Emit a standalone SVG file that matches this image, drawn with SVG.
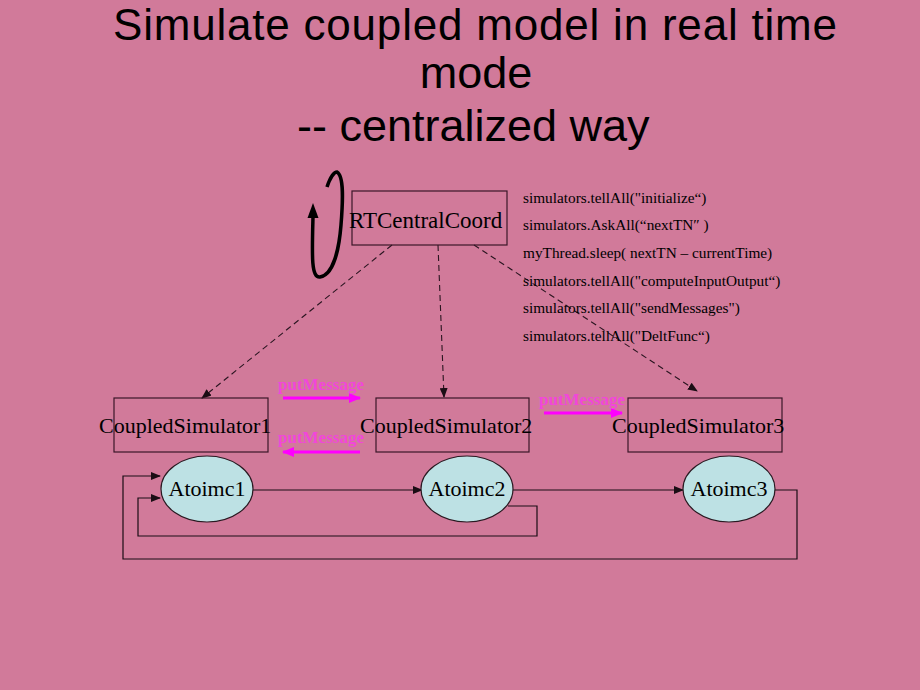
<svg xmlns="http://www.w3.org/2000/svg" width="920" height="690" viewBox="0 0 920 690">
<defs>
<style>
.title{font-family:"Liberation Sans",Arial,sans-serif;font-size:45px;fill:#000}
.node{font-family:"Liberation Serif","Times New Roman",serif;font-size:22px;fill:#000}
.code{font-family:"Liberation Serif","Times New Roman",serif;font-size:15.3px;fill:#000}
.pm{font-family:"Liberation Serif","Times New Roman",serif;font-size:17px;font-weight:bold;fill:#F246DA}
.box{fill:none;stroke:#3a1628;stroke-width:1.2}
.ell{fill:#BDE1E4;stroke:#2a1a22;stroke-width:1.2}
.dash{fill:none;stroke:#2a1520;stroke-width:1.1;stroke-dasharray:6 4}
.wire{fill:none;stroke:#1a0d14;stroke-width:1.2}
.mag{fill:none;stroke:#FF00FF;stroke-width:3}
</style>
<marker id="ah" markerWidth="10" markerHeight="8" refX="9" refY="4" orient="auto" markerUnits="userSpaceOnUse">
<path d="M0,0 L10,4 L0,8 z" fill="#1a0d14"/>
</marker>
<marker id="mh" markerWidth="12" markerHeight="10" refX="11" refY="5" orient="auto" markerUnits="userSpaceOnUse">
<path d="M0,0 L12,5 L0,10 z" fill="#FF00FF"/>
</marker>
</defs>
<rect x="0" y="0" width="920" height="690" fill="#D17A9A"/>

<g id="title">
<text class="title" x="113" y="40" textLength="724" lengthAdjust="spacing" style="font-size:44px">Simulate coupled model in real time</text>
<text class="title" x="476" y="88" text-anchor="middle">mode</text>
<text class="title" x="297" y="141">-- centralized way</text>
</g>

<g id="connectors">
<path d="M327,187 C330,178 334,172 337,172 C344,176 343,200 341,225 C339,250 333,275 320,277 C311,278 312,255 313,217" fill="none" stroke="#000" stroke-width="3.5"/>
<path d="M313,203 L307.5,218 L318.5,218 z" fill="#000"/>
<line class="dash" x1="392" y1="245" x2="202" y2="398" marker-end="url(#ah)"/>
<line class="dash" x1="438" y1="245" x2="444" y2="397" marker-end="url(#ah)"/>
<line class="dash" x1="474" y1="245" x2="697" y2="391" marker-end="url(#ah)"/>
<line class="mag" x1="283" y1="398" x2="360" y2="398" marker-end="url(#mh)"/>
<line class="mag" x1="360" y1="452" x2="283" y2="452" marker-end="url(#mh)"/>
<line class="mag" x1="544" y1="413" x2="622" y2="413" marker-end="url(#mh)"/>
<line class="wire" x1="253" y1="490" x2="422" y2="490" marker-end="url(#ah)"/>
<line class="wire" x1="513" y1="490" x2="683" y2="490" marker-end="url(#ah)"/>
<polyline class="wire" points="508,506 537,506 537,536 138,536 138,498 160,498" marker-end="url(#ah)"/>
<polyline class="wire" points="774,490 797,490 797,559 123,559 123,476 160,476" marker-end="url(#ah)"/>
</g>

<g id="rtcentralcoord">
<rect class="box" x="352" y="191" width="155" height="54"/>
<text class="node" x="349" y="228" style="font-size:23px">RTCentralCoord</text>
</g>

<g id="code">
<text class="code" x="523" y="203">simulators.tellAll("initialize“)</text>
<text class="code" x="523" y="230">simulators.AskAll(“nextTN″ )</text>
<text class="code" x="523" y="258">myThread.sleep( nextTN – currentTime)</text>
<text class="code" x="523" y="286">simulators.tellAll("computeInputOutput“)</text>
<text class="code" x="523" y="313">simulators.tellAll("sendMessages")</text>
<text class="code" x="523" y="341">simulators.tellAll("DeltFunc“)</text>
</g>

<g id="coupledsimulator1">
<rect class="box" x="114" y="398" width="154" height="54"/>
<text class="node" x="99" y="433">CoupledSimulator1</text>
</g>
<g id="coupledsimulator2">
<rect class="box" x="376" y="398" width="153" height="54"/>
<text class="node" x="360" y="433">CoupledSimulator2</text>
</g>
<g id="coupledsimulator3">
<rect class="box" x="628" y="398" width="154" height="54"/>
<text class="node" x="612" y="433">CoupledSimulator3</text>
</g>

<g id="putmessage-labels">
<text class="pm" x="278" y="390">putMessage</text>
<text class="pm" x="278" y="443">putMessage</text>
<text class="pm" x="539" y="405">putMessage</text>
</g>

<g id="atoimc1">
<ellipse class="ell" cx="207" cy="489" rx="46" ry="33"/>
<text class="node" x="207" y="496" text-anchor="middle">Atoimc1</text>
</g>
<g id="atoimc2">
<ellipse class="ell" cx="467" cy="489" rx="46" ry="33"/>
<text class="node" x="467" y="496" text-anchor="middle">Atoimc2</text>
</g>
<g id="atoimc3">
<ellipse class="ell" cx="729" cy="489" rx="46" ry="33"/>
<text class="node" x="729" y="496" text-anchor="middle">Atoimc3</text>
</g>
</svg>
